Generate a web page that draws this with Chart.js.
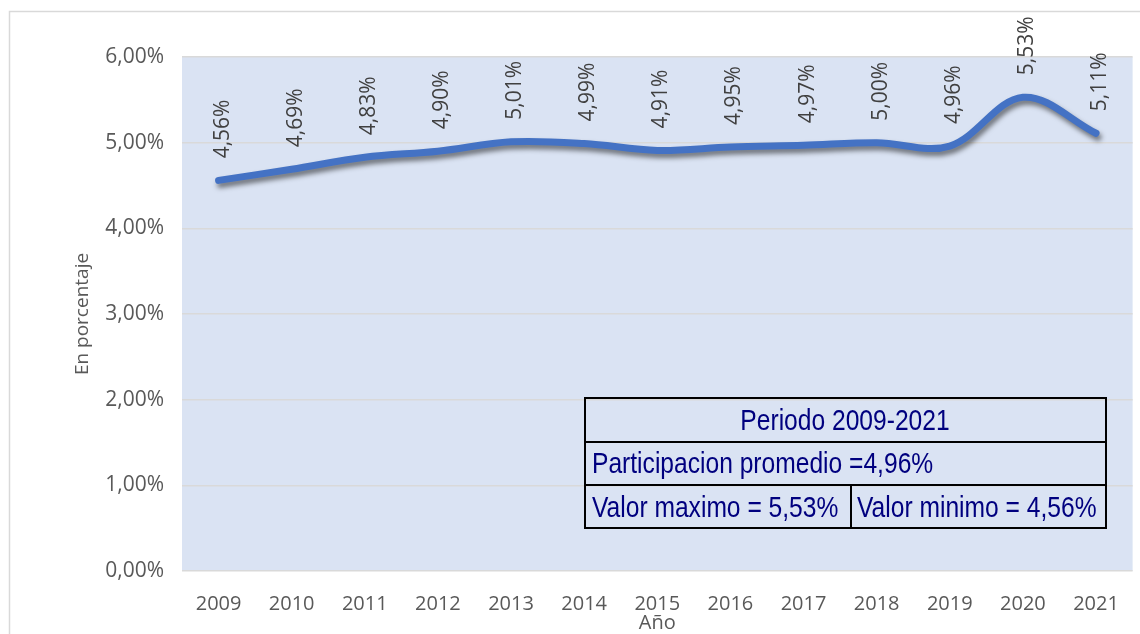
<!DOCTYPE html>
<html>
<head>
<meta charset="utf-8">
<script src="https://cdn.jsdelivr.net/npm/chart.js@4/dist/chart.umd.min.js"></script>
<style>
html,body{margin:0;padding:0;background:#fff;}
#wrap{position:relative;width:1140px;height:634px;overflow:hidden;}
canvas{position:absolute;left:0;top:0;}
.box{position:absolute;border:2px solid #000;box-sizing:border-box;}
.txt{position:absolute;font-family:"Liberation Sans",Arial,sans-serif;font-size:30px;color:#00007F;
 white-space:nowrap;line-height:30px;transform:scaleX(0.82);}
</style>
</head>
<body>
<div id="wrap">
<canvas id="c" width="1140" height="634"></canvas>
<div class="box" style="left:584px;top:397px;width:523px;height:46px"></div>
<div class="box" style="left:584px;top:441px;width:523px;height:45px"></div>
<div class="box" style="left:584px;top:484px;width:268px;height:45px"></div>
<div class="box" style="left:850px;top:484px;width:257px;height:45px"></div>
<div class="txt" style="left:845px;top:405px;transform:translateX(-50%) scaleX(0.82);transform-origin:50% 0">Periodo 2009-2021</div>
<div class="txt" style="left:592px;top:448px;transform-origin:0 0">Participacion promedio =4,96%</div>
<div class="txt" style="left:592px;top:492px;transform-origin:0 0">Valor maximo = 5,53%</div>
<div class="txt" style="left:857px;top:492px;transform-origin:0 0">Valor minimo = 4,56%</div>
</div>
<script>
const years = ["2009","2010","2011","2012","2013","2014","2015","2016","2017","2018","2019","2020","2021"];
const participacion = [4.56,4.69,4.83,4.90,5.01,4.99,4.91,4.95,4.97,5.00,4.96,5.53,5.11];
const yTicks = [0,1,2,3,4,5,6];

function fmt(v, d){ return v.toFixed(d).replace('.', ',') + '%'; }

const bgPlugin = {
  id:'bg',
  beforeDraw(chart){
    const {ctx, chartArea:a} = chart;
    ctx.save();
    ctx.fillStyle='#fff'; ctx.fillRect(0,0,chart.width,chart.height);
    ctx.strokeStyle='#D9D9D9'; ctx.lineWidth=1.5;
    ctx.strokeRect(9.5,11.5,1140,640);
    ctx.fillStyle='#DAE3F3';
    ctx.fillRect(a.left,a.top,a.right-a.left,a.bottom-a.top);
    ctx.restore();
  }
};
const shadowPlugin = {
  id:'shadow',
  beforeDatasetDraw(chart){
    const ctx=chart.ctx; ctx.save();
    ctx.shadowColor='rgba(0,0,0,0.5)'; ctx.shadowBlur=5; ctx.shadowOffsetX=2; ctx.shadowOffsetY=4;
  },
  afterDatasetDraw(chart){ chart.ctx.restore(); }
};
const labelPlugin = {
  id:'vlabels',
  afterDatasetsDraw(chart){
    const ctx=chart.ctx; const meta=chart.getDatasetMeta(0);
    ctx.save();
    ctx.font='21px "Open Sans"'; ctx.fillStyle='#404040';
    ctx.textAlign='left'; ctx.textBaseline='middle';
    meta.data.forEach((pt,i)=>{
      ctx.save();
      ctx.translate(pt.x+4, pt.y-22);
      ctx.rotate(-Math.PI/2);
      ctx.fillText(fmt(participacion[i],2),0,0);
      ctx.restore();
    });
    ctx.restore();
  }
};

new Chart(document.getElementById('c'),{
  type:'line',
  data:{labels:years,datasets:[{data:participacion,borderColor:'#4472C4',borderWidth:7,
    tension:0.35,pointRadius:0,fill:false,borderCapStyle:'round',borderJoinStyle:'round'}]},
  options:{
    responsive:false,animation:false,
    layout:{padding:{top:57,right:2,left:0,bottom:0}},
    plugins:{legend:{display:false},tooltip:{enabled:false}},
    scales:{
      x:{
        offset:true,
        grid:{display:false,drawTicks:false},
        border:{display:false},
        ticks:{color:'#595959',font:{family:'"Open Sans"',size:20},padding:21},
        title:{display:true,text:'Año',color:'#595959',font:{family:'"Open Sans"',size:20},padding:{top:0,bottom:-1}},
        afterFit(s){ s.height=63; }
      },
      y:{
        min:0,max:6,
        afterBuildTicks(s){ s.ticks = yTicks.map(v=>({value:v})); },
        grid:{color:'#D9D9D9',lineWidth:1.5,drawTicks:false},
        border:{display:false},
        ticks:{color:'#595959',font:{family:'"Open Sans"',size:21},padding:18,callback:v=>fmt(v,2)},
        title:{display:true,text:'En porcentaje',color:'#595959',font:{family:'"Open Sans"',size:19},padding:{top:71,bottom:0}},
        afterFit(s){ s.width=182; }
      }
    }
  },
  plugins:[bgPlugin,shadowPlugin,labelPlugin]
});
</script>
</body>
</html>
